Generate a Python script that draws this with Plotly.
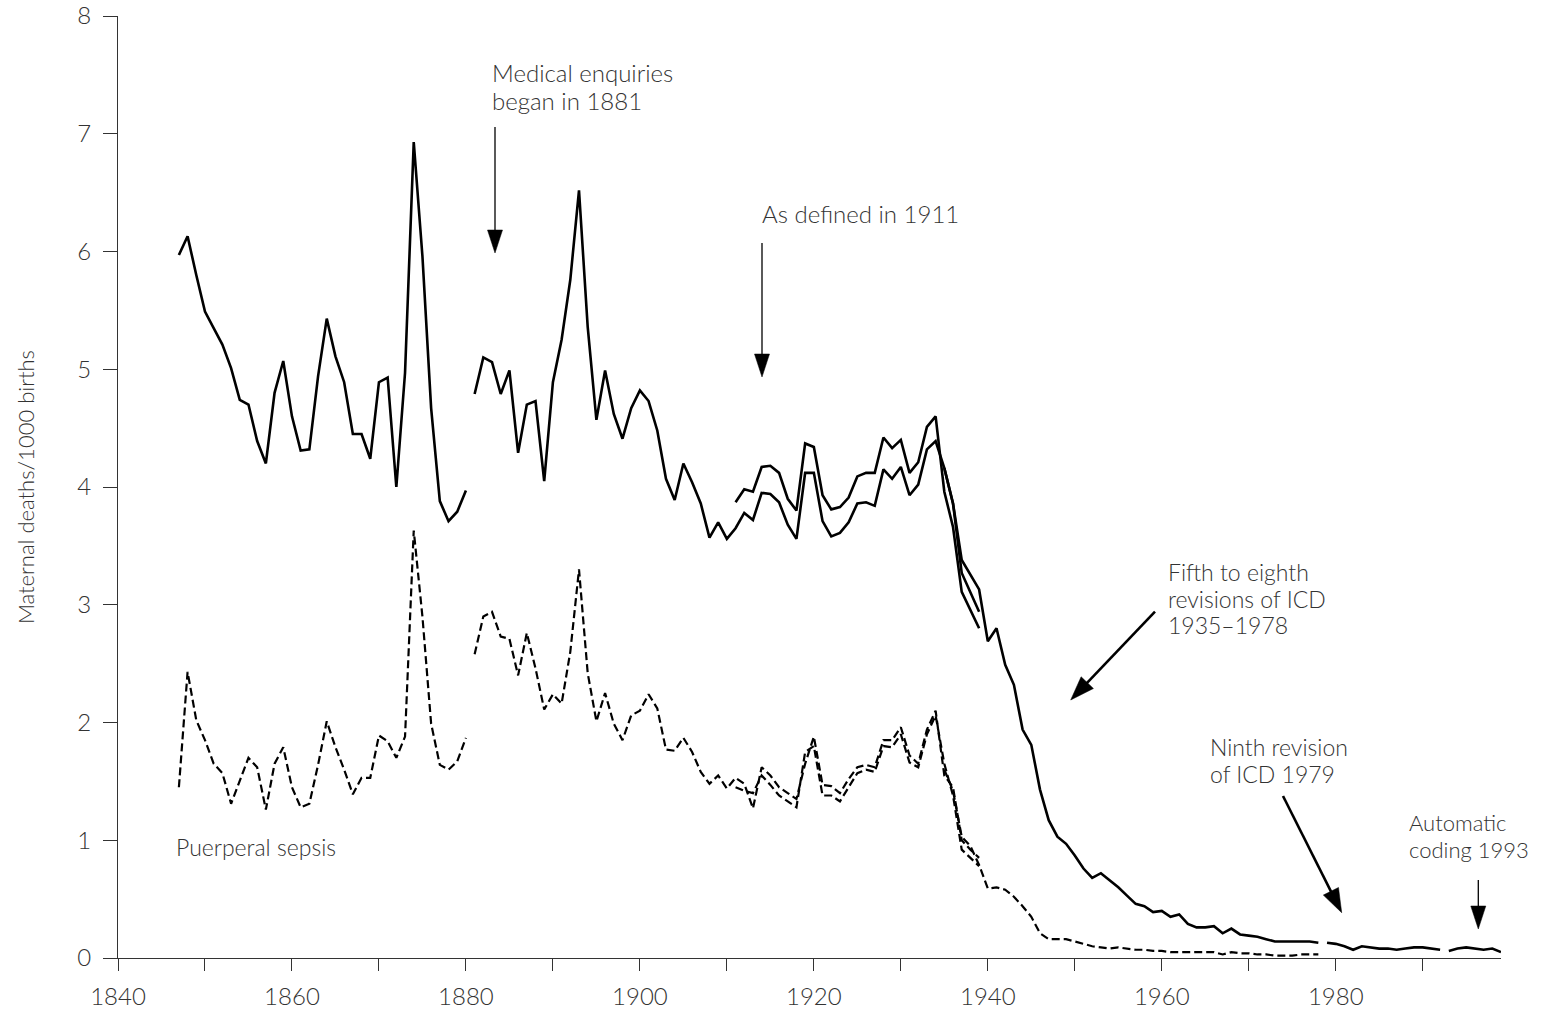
import math
import plotly.graph_objects as go

# ---------------- data ----------------
mat_years_1 = list(range(1847, 1881))
mat_1 = [5.97, 6.13, 5.80, 5.49, 5.35, 5.21, 5.01, 4.74, 4.70, 4.39,
         4.20, 4.80, 5.07, 4.60, 4.31, 4.32, 4.94, 5.43, 5.11, 4.89,
         4.45, 4.45, 4.24, 4.89, 4.93, 4.00, 4.97, 6.93, 5.96, 4.67,
         3.88, 3.71, 3.79, 3.97]

mat_years_2 = list(range(1881, 1940))
mat_2 = [4.79, 5.10, 5.06, 4.79, 4.99, 4.29, 4.70, 4.73, 4.05, 4.89,
         5.25, 5.76, 6.52, 5.36, 4.57, 4.99, 4.62, 4.41, 4.67, 4.82,
         4.73, 4.48, 4.07, 3.89, 4.20, 4.04, 3.86, 3.57, 3.70, 3.56,
         3.65, 3.78, 3.72, 3.95, 3.94, 3.87, 3.68, 3.56, 4.12, 4.12,
         3.71, 3.58, 3.61, 3.70, 3.86, 3.87, 3.84, 4.15, 4.07, 4.17,
         3.93, 4.02, 4.32, 4.39, 4.16, 3.86, 3.27, 3.10, 2.94]

mat_years_1911 = list(range(1911, 1940))
mat_1911 = [3.87, 3.98, 3.96, 4.17, 4.18, 4.12, 3.90, 3.80, 4.37, 4.34,
            3.93, 3.81, 3.83, 3.91, 4.09, 4.12, 4.12, 4.42, 4.33, 4.40,
            4.12, 4.21, 4.51, 4.60, 3.96, 3.66, 3.11, 2.95, 2.80]

mat_years_icd = list(range(1935, 1979))
mat_icd = [4.16, 3.86, 3.38, 3.25, 3.13, 2.69,
           2.80, 2.49, 2.32, 1.94, 1.81, 1.43, 1.17, 1.03, 0.97, 0.87,
           0.76, 0.68, 0.72, 0.66, 0.60, 0.53, 0.46, 0.44, 0.39, 0.40,
           0.35, 0.37, 0.29, 0.26, 0.26, 0.27, 0.21, 0.25, 0.20, 0.19,
           0.18, 0.16, 0.14, 0.14, 0.14, 0.14, 0.14, 0.13]

mat_years_9th = list(range(1979, 1993))
mat_9th = [0.13, 0.12, 0.10, 0.07, 0.10, 0.09, 0.08, 0.08, 0.07, 0.08,
           0.09, 0.09, 0.08, 0.07]

mat_years_auto = list(range(1993, 2000))
mat_auto = [0.06, 0.08, 0.09, 0.08, 0.07, 0.08, 0.05]

sep_years_1 = list(range(1847, 1881))
sep_1 = [1.45, 2.43, 2.02, 1.85, 1.65, 1.57, 1.31, 1.51, 1.70, 1.62,
         1.26, 1.65, 1.79, 1.45, 1.28, 1.31, 1.64, 2.01, 1.79, 1.60,
         1.39, 1.53, 1.53, 1.89, 1.84, 1.70, 1.88, 3.63, 2.90, 1.99,
         1.64, 1.60, 1.67, 1.87]

sep_years_2 = list(range(1881, 1940))
sep_2 = [2.58, 2.90, 2.94, 2.73, 2.71, 2.40, 2.76, 2.46, 2.11, 2.24,
         2.16, 2.60, 3.30, 2.42, 2.01, 2.25, 1.99, 1.85, 2.06, 2.10,
         2.24, 2.12, 1.77, 1.76, 1.87, 1.75, 1.58, 1.48, 1.55, 1.44,
         1.53, 1.48, 1.27, 1.62, 1.55, 1.45, 1.40, 1.35, 1.65, 1.88,
         1.47, 1.46, 1.40, 1.52, 1.62, 1.64, 1.62, 1.85, 1.85, 1.96,
         1.72, 1.65, 1.94, 2.10, 1.55, 1.45, 1.00, 0.92, 0.85]

sep_years_1911 = list(range(1911, 1940))
sep_1911 = [1.45, 1.42, 1.40, 1.55, 1.47, 1.38, 1.33, 1.28, 1.75, 1.80,
            1.38, 1.38, 1.33, 1.45, 1.57, 1.60, 1.58, 1.80, 1.79, 1.90,
            1.66, 1.62, 1.90, 2.06, 1.65, 1.38, 0.92, 0.85, 0.78]

sep_years_icd = list(range(1935, 1979))
sep_icd = [1.60, 1.42, 1.03, 0.95, 0.79, 0.59,
           0.60, 0.58, 0.52, 0.44, 0.35, 0.21, 0.16, 0.16, 0.16, 0.14,
           0.12, 0.10, 0.09, 0.08, 0.09, 0.08, 0.07, 0.07, 0.06, 0.06,
           0.05, 0.05, 0.05, 0.05, 0.05, 0.05, 0.03, 0.05, 0.04, 0.04,
           0.03, 0.03, 0.02, 0.02, 0.02, 0.03, 0.03, 0.03]

x_tick_vals = list(range(1840, 2000, 10))
x_tick_text = [str(v) if v % 20 == 0 else "" for v in x_tick_vals]
y_tick_vals = list(range(0, 9))

# ---------------- figure ----------------
W, H = 1548, 1012
L, R, T, B = 118, 1501, 16, 958   # plot area edges in pixels
X0, X1 = 1840, 1999
Y0, Y1 = 0, 8


def X(px):
    return X0 + (px - L) * (X1 - X0) / (R - L)


def Y(py):
    return Y0 + (B - py) * (Y1 - Y0) / (B - T)


FONT = "Lato, 'Open Sans', sans-serif"
TXT = "#333333"
solid = dict(color="black", width=2.6)
dashed = dict(color="black", width=2.2, dash="8px,4px")

fig = go.Figure()
for xs, ys in [(mat_years_1, mat_1), (mat_years_2, mat_2),
               (mat_years_1911, mat_1911), (mat_years_icd, mat_icd),
               (mat_years_9th, mat_9th), (mat_years_auto, mat_auto)]:
    fig.add_trace(go.Scatter(x=xs, y=ys, mode="lines", line=solid,
                             showlegend=False, hoverinfo="skip"))
for xs, ys in [(sep_years_1, sep_1), (sep_years_2, sep_2),
               (sep_years_1911, sep_1911), (sep_years_icd, sep_icd)]:
    fig.add_trace(go.Scatter(x=xs, y=ys, mode="lines", line=dashed,
                             showlegend=False, hoverinfo="skip"))

shapes = []


def arrow(tip_px, tail_px, lw, hl, hw):
    tx, ty = tip_px
    dx = tail_px[0] - tx
    dy = ty - tail_px[1]          # up positive
    ln = math.hypot(dx, dy)
    ux, uy = dx / ln, dy / ln
    nx, ny = -uy, ux
    base = dict(xref="x", yref="y", xsizemode="pixel", ysizemode="pixel",
                xanchor=X(tx), yanchor=Y(ty))
    shapes.append(dict(type="line", x0=ux * hl * 0.8, y0=uy * hl * 0.8,
                       x1=dx, y1=dy, line=dict(color="black", width=lw),
                       **base))
    p1 = (ux * hl + nx * hw / 2, uy * hl + ny * hw / 2)
    p2 = (ux * hl - nx * hw / 2, uy * hl - ny * hw / 2)
    path = "M 0 0 L %.2f %.2f L %.2f %.2f Z" % (p1[0], p1[1], p2[0], p2[1])
    shapes.append(dict(type="path", path=path, fillcolor="black",
                       line=dict(color="black", width=0.5), **base))


arrow((495, 253), (495, 127), 1.3, 23, 15)
arrow((762, 377), (762, 243), 1.3, 23, 15)
arrow((1070.7, 700), (1155, 611.7), 2.6, 24, 17)
arrow((1341.7, 912.7), (1283, 796), 2.6, 24, 17)
arrow((1478.3, 929), (1478.3, 880), 1.3, 23, 15)

annotations = []


def label(text, px, py, size=23):
    annotations.append(dict(text=text, x=X(px), y=Y(py), xref="x", yref="y",
                            xanchor="left", yanchor="middle", showarrow=False,
                            font=dict(family=FONT, size=size, color=TXT,
                                      weight=300)))


label("Medical enquiries", 490, 72, 24)
label("began in 1881", 490, 100, 24)
label("As defined in 1911", 760, 213, 24)
label("Fifth to eighth", 1166, 572)
label("revisions of ICD", 1166, 599)
label("1935\u20131978", 1166, 625)
label("Ninth revision", 1208, 747)
label("of ICD 1979", 1208, 774)
label("Automatic", 1407, 822, 22)
label("coding 1993", 1407, 849, 22)
label("Puerperal sepsis", 174, 847)

annotations.append(dict(text="Maternal deaths/1000 births", textangle=-90,
                        xref="paper", yref="paper",
                        x=(25 - L) / (R - L), y=(B - 487) / (B - T),
                        xanchor="center", yanchor="middle", showarrow=False,
                        font=dict(family=FONT, size=22, color=TXT,
                                  weight=300)))

axis_common = dict(showgrid=False, zeroline=False, showline=True,
                   automargin=False, ticklabeloverflow="allow",
                   linecolor="#333333", linewidth=1.3, ticks="outside",
                   tickcolor="#333333", tickwidth=1.3,
                   tickfont=dict(family=FONT, size=24, color=TXT, weight=300))

fig.update_layout(
    width=W, height=H,
    margin=dict(l=L, r=W - R, t=T, b=H - B, autoexpand=False),
    paper_bgcolor="white", plot_bgcolor="white",
    xaxis=dict(range=[X0, X1], tickvals=x_tick_vals, ticktext=x_tick_text,
               ticklen=12, ticklabelstandoff=5, **axis_common),
    yaxis=dict(range=[Y0, Y1], tickvals=y_tick_vals, ticklen=14,
               ticklabelstandoff=7, **axis_common),
    shapes=shapes, annotations=annotations,
)

fig.write_html("out.html", config={"displayModeBar": False},
               post_script="document.body.style.margin='0px';"
                           "document.body.style.overflow='hidden';")
